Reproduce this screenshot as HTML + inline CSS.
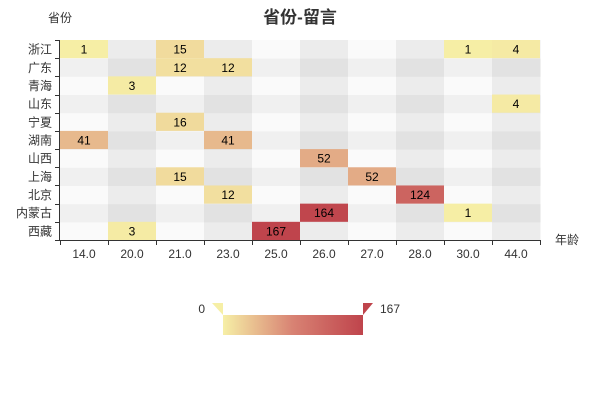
<!DOCTYPE html>
<html><head><meta charset="utf-8"><style>
body{margin:0;background:#fff;width:600px;height:400px;overflow:hidden}
text{font-family:"Liberation Sans","Noto Sans CJK SC",sans-serif}
</style></head><body>
<svg id="chart" width="600" height="400" xmlns="http://www.w3.org/2000/svg">
<text x="300" y="23" text-anchor="middle" font-size="17" font-weight="bold" fill="#333">省份-留言</text>
<text x="60" y="22" text-anchor="middle" font-size="12" fill="#333">省份</text>
<text x="555" y="244" font-size="12" fill="#333">年龄</text>
<g id="cells"></g><g id="axes"></g>
<defs><linearGradient id="vm" x1="0" x2="1" y1="0" y2="0"><stop offset="0" stop-color="#f6efa6"/><stop offset="0.5" stop-color="#d88273"/><stop offset="1" stop-color="#bf444c"/></linearGradient></defs>
<g>
<rect x="223" y="315" width="140" height="20" fill="url(#vm)"/>
<polygon points="212,303 223,303 223,315" fill="#f6efa6"/>
<polygon points="363,303 373,303 363,315" fill="#bf444c"/>
<text x="205" y="313" text-anchor="end" font-size="12" fill="#333">0</text>
<text x="380" y="313" font-size="12" fill="#333">167</text>
</g>
</svg>
<script>
const xCats=["14.0","20.0","21.0","23.0","25.0","26.0","27.0","28.0","30.0","44.0"];
const yCats=["西藏","内蒙古","北京","上海","山西","湖南","宁夏","山东","青海","广东","浙江"];
const cellX=[0,2,8,9,2,3,1,9,2,0,3,5,2,6,3,7,5,8,1,4];
const cellY=[10,10,10,10,9,9,8,7,6,5,5,4,3,3,2,2,1,1,0,0];
const cellV=[1,15,1,4,12,12,3,4,16,41,41,52,15,52,12,124,164,1,3,167];
const vMin=0,vMax=167;
const NS="http://www.w3.org/2000/svg";
const L=60,R=540,T=40,B=240;
const cw=(R-L)/xCats.length,ch=(B-T)/yCats.length;
const xPos=i=>L+i*cw;
const yPos=j=>B-(j+1)*ch;
function mk(t,a,p){const e=document.createElementNS(NS,t);for(const k in a)e.setAttribute(k,a[k]);p.appendChild(e);return e;}
function lerp(a,b,t){return a.map((v,i)=>Math.round(v+(b[i]-v)*t));}
function color(v){const t=(v-vMin)/(vMax-vMin);const c0=[246,239,166],c1=[216,130,115],c2=[191,68,76];
const c=t<0.5?lerp(c0,c1,t*2):lerp(c1,c2,(t-0.5)*2);return`rgb(${c})`;}
const cells=document.getElementById('cells'),axes=document.getElementById('axes');
for(let i=0;i<xCats.length;i++)for(let j=0;j<yCats.length;j++){
 const g=(i%2?1:0)+(j%2?1:0);const shade=i%2&&j%2?'#e2e2e2':i%2?'#ececec':j%2?'#f0f0f0':'#fafafa';
 const r=mk('rect',{x:xPos(i),y:yPos(j),width:cw+0.5,height:ch+0.5,fill:shade},cells);
 
 
}
for(let k=0;k<cellV.length;k++){
 const r=mk('rect',{x:xPos(cellX[k]),y:yPos(cellY[k]),width:cw,height:ch,fill:color(cellV[k])},cells);
 
 
 const t=mk('text',{x:xPos(cellX[k])+cw/2,y:yPos(cellY[k])+ch/2+4.5,'text-anchor':'middle','font-size':12,fill:'#000'},cells);
 t.textContent=cellV[k];
 
 
}
let a=mk('line',{x1:L,y1:B+0.5,x2:R,y2:B+0.5,stroke:'#333'},axes);


a=mk('line',{x1:L-0.5,y1:T,x2:L-0.5,y2:B,stroke:'#333'},axes);


for(let i=0;i<=xCats.length;i++){const x=Math.round(xPos(i))+0.5;mk('line',{x1:x,y1:B,x2:x,y2:B+5,stroke:'#333'},axes);}
xCats.forEach((c,i)=>{const t=mk('text',{x:xPos(i)+cw/2,y:B+18,'text-anchor':'middle','font-size':12,fill:'#333'},axes);t.textContent=c;
 
 });
for(let j=0;j<=yCats.length;j++){const y=Math.round(B-j*ch)+0.5;mk('line',{x1:L-5,y1:y,x2:L,y2:y,stroke:'#333'},axes);}
yCats.forEach((c,j)=>{const t=mk('text',{x:L-8,y:yPos(j)+ch/2+4.5,'text-anchor':'end','font-size':12,fill:'#333'},axes);t.textContent=c;
 
 });
</script>
</body></html>
